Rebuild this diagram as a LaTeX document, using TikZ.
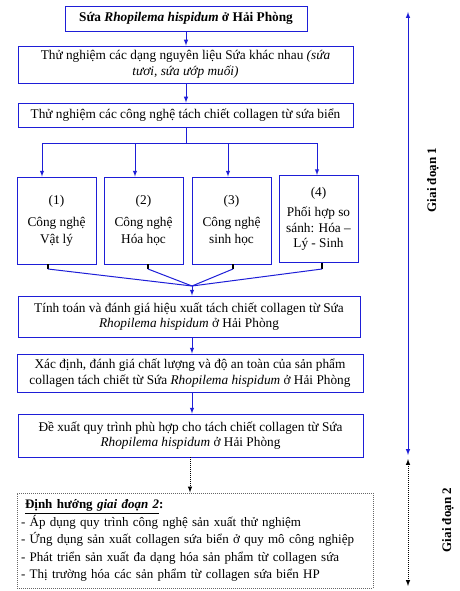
\documentclass[tikz,border=0pt]{standalone}
\usepackage{fontspec}
\setmainfont{Liberation Serif}
\usetikzlibrary{positioning}
\usetikzlibrary{arrows}
\definecolor{flowblue}{RGB}{30,30,215}

\begin{document}
\begin{tikzpicture}[x=1pt,y=-1pt,>=latex,
  box/.style={draw=flowblue,line width=0.9pt,align=center,inner sep=2pt,font=\fontsize{13.3}{15.5}\selectfont},
  methodbox/.style={box,minimum width=79pt,minimum height=87pt,font=\fontsize{13.3}{17}\selectfont},
  flow/.style={flowblue,line width=1pt},
  stub/.style={black,line width=1.2pt},
  later/.style={black,densely dotted,line width=1pt}]
\useasboundingbox (0,0) rectangle (459,591);

% main column
\node [box,minimum width=242pt,minimum height=25pt](src) at (186,18.5)
  {\textbf{Sứa \textit{Rhopilema hispidum} ở Hải Phòng}};
\node [box,minimum width=335pt,minimum height=37pt](raw) at (185.5,64.5)
  {Thử nghiệm các dạng nguyên liệu Sứa khác nhau \textit{(sứa}\\\textit{tươi, sứa ướp muối)}};
\node [box,minimum width=335pt,minimum height=24pt](tech) at (185.5,115)
  {Thử nghiệm các công nghệ tách chiết collagen từ sứa biển};

% four methods
\node [methodbox](m1) at (56.5,220.5) {(1)\\[5pt]Công nghệ\\Vật lý};
\node [methodbox](m2) at (143.5,220.5) {(2)\\[5pt]Công nghệ\\Hóa học};
\node [methodbox](m3) at (231.5,220.5) {(3)\\[5pt]Công nghệ\\sinh học};
\node [methodbox,font=\fontsize{13.3}{15.5}\selectfont](m4) at (318.5,219) {(4)\\[5pt]Phối hợp so\\sánh: Hóa –\\Lý - Sinh};

\node [box,minimum width=342pt,minimum height=41pt](calc) at (189,316.5)
  {Tính toán và đánh giá hiệu xuất tách chiết collagen từ Sứa\\\textit{Rhopilema hispidum} ở Hải Phòng};
\node [box,minimum width=346pt,minimum height=38pt](qual) at (190,373)
  {Xác định, đánh giá chất lượng và độ an toàn của sản phẩm\\collagen tách chiết từ Sứa \textit{Rhopilema hispidum} ở Hải Phòng};
\node [box,minimum width=345pt,minimum height=43pt](prop) at (190.5,435.5)
  {Đề xuất quy trình phù hợp cho tách chiết collagen từ Sứa\\\textit{Rhopilema hispidum} ở Hải Phòng};

\node [draw=black!60,densely dotted,line width=1pt,text width=348pt,minimum height=95pt,
  align=left,inner sep=4pt,font=\fontsize{13}{17.5}\selectfont](next) at (195,540.5)
  {\hspace*{4pt}\underline{\textbf{Định hướng \textit{giai đoạn 2}}}\textbf{:}\\
   - Áp dụng quy trình công nghệ sản xuất thử nghiệm\\
   - Ứng dụng sản xuất collagen sứa biển ở quy mô công nghiệp\\
   - Phát triển sản xuất đa dạng hóa sản phẩm từ collagen sứa\\
   - Thị trường hóa các sản phẩm từ collagen sứa biển HP};

% connectors
\path[flow,->](src) edge (src |- raw.north);
\path[flow,->](raw.south -| src) edge (src |- tech.north);

\coordinate (split) at (186,143);
\coordinate (s1) at (42,143);
\coordinate (s2) at (135,143);
\coordinate (s3) at (228,143);
\coordinate (s4) at (317,143);
\draw[flow](tech.south -| split) -- (split);
\draw[flow](s1) -- (s4);
\foreach \i in {1,...,4}
  \draw[flow,->](s\i) -- (s\i |- m\i.north);

\coordinate (merge) at (192,286);
\coordinate (j1) at (48,269);
\coordinate (j2) at (148,269);
\coordinate (j3) at (233,269);
\coordinate (j4) at (322,269);
\foreach \i in {1,...,4}{
  \draw[stub](j\i |- m\i.south) -- (j\i);
  \draw[flow](j\i) -- (merge);
}
\draw[flow,->](merge) -- (merge |- calc.north);
\draw[flow,->](calc.south -| merge) -- (merge |- qual.north);
\draw[flow,->](qual.south -| merge) -- (merge |- prop.north);
\draw[later,->](prop.south -| 190,0) -- (190,0 |- next.north);

% stages
\coordinate (p1top) at (408,12);
\coordinate (p1bot) at (408,455);
\coordinate (p2top) at (408,459);
\coordinate (p2bot) at (408,586);
\draw[flow,<->](p1top) -- (p1bot);
\draw[later,<->](p2top) -- (p2bot);
\node [rotate=90,font=\bfseries\fontsize{13}{15}\selectfont](g1) at (433,180) {Giai đoạn 1};
\node [rotate=90,font=\bfseries\fontsize{13}{15}\selectfont](g2) at (448,520) {Giai đoạn 2};
\end{tikzpicture}
\end{document}
